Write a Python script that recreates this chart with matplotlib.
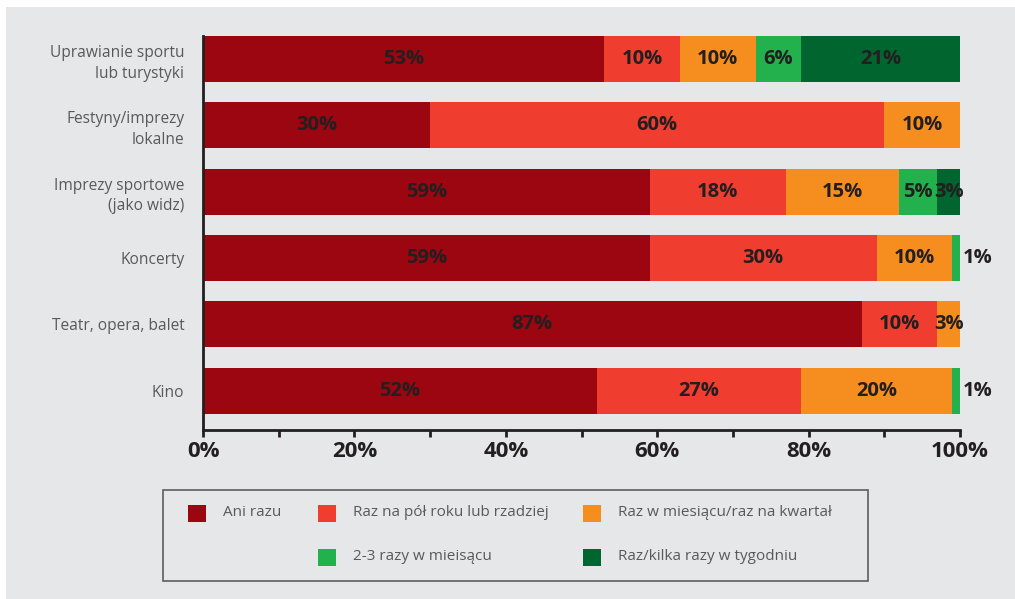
import matplotlib
matplotlib.use("Agg")
import matplotlib.pyplot as plt
from matplotlib.patches import Rectangle
import numpy as np

# Data: share of respondents by frequency of participation (%)
categories = [
    "Uprawianie sportu\nlub turystyki",
    "Festyny/imprezy\nlokalne",
    "Imprezy sportowe\n(jako widz)",
    "Koncerty",
    "Teatr, opera, balet",
    "Kino",
]
series_names = [
    "Ani razu",
    "Raz na pół roku lub rzadziej",
    "Raz w miesiącu/raz na kwartał",
    "2-3 razy w mieisącu",
    "Raz/kilka razy w tygodniu",
]
ani_razu = [53, 30, 59, 59, 87, 52]
raz_pol_roku = [10, 60, 18, 30, 10, 27]
raz_miesiac = [10, 10, 15, 10, 3, 20]
dwa_trzy_razy = [6, 0, 5, 1, 0, 1]
raz_tydzien = [21, 0, 3, 0, 0, 0]
x_ticks = [0, 20, 40, 60, 80, 100]
x_tick_labels = ["0%", "20%", "40%", "60%", "80%", "100%"]

series = [ani_razu, raz_pol_roku, raz_miesiac, dwa_trzy_razy, raz_tydzien]
colors = ["#9b0610", "#ef3e2f", "#f68e1f", "#22b14c", "#00652e"]

BG = "#e6e7e8"
DARK = "#231f20"
GREY_TXT = "#58595b"
FONT = "Open Sans"

W, H = 1015, 599
fig = plt.figure(figsize=(W / 100, H / 100), dpi=100, facecolor="white")


def px_box(x0, y0, x1, y1):
    """Convert an image-pixel box (top-left origin) to figure fractions."""
    return (x0 / W, 1 - y1 / H, (x1 - x0) / W, (y1 - y0) / H)


# grey panel behind everything
l, b, w, h = px_box(6, 7, W, H)
fig.patches.append(Rectangle((l, b), w, h, transform=fig.transFigure,
                             facecolor=BG, edgecolor="none", zorder=-10))

ax = fig.add_axes(px_box(203, 36, 960, 430))
ax.set_facecolor("none")

y = np.arange(len(categories))
left = np.zeros(len(categories))
for vals, color in zip(series, colors):
    vals = np.array(vals, dtype=float)
    ax.barh(y, vals, left=left, height=0.693, color=color, edgecolor="none", zorder=2)
    for yi, v, l0 in zip(y, vals, left):
        if v <= 0:
            continue
        if v < 2:
            ax.text(l0 + v + 0.3, yi, f"{int(v)}%", ha="left", va="center",
                    fontsize=14.5, fontweight="bold", color=DARK, family=FONT, zorder=3)
        else:
            ax.text(l0 + v / 2, yi, f"{int(v)}%", ha="center", va="center",
                    fontsize=14.5, fontweight="bold", color=DARK, family=FONT, zorder=3)
    left += vals

ax.set_xlim(0, 100)
ax.set_ylim(len(categories) - 1 + 0.595, -0.3465)

ax.set_yticks(y)
ax.set_yticklabels(categories, family=FONT, fontsize=11.2, color=GREY_TXT,
                   linespacing=1.4)
ax.tick_params(axis="y", length=0, pad=13.5)

ax.set_xticks(x_ticks)
ax.set_xticklabels(x_tick_labels, family=FONT, fontsize=16, fontweight="bold", color=DARK)
ax.set_xticks(np.arange(0, 101, 10), minor=True)
ax.tick_params(axis="x", which="both", direction="out", length=5, width=2,
               color=DARK, pad=3)

for side in ("top", "right"):
    ax.spines[side].set_visible(False)
for side in ("left", "bottom"):
    ax.spines[side].set_color(DARK)
    ax.spines[side].set_linewidth(2)

# legend panel
l, b, w, h = px_box(163, 490, 868, 581)
fig.patches.append(Rectangle((l, b), w, h, transform=fig.transFigure,
                             facecolor="none", edgecolor="#5e5e60", linewidth=1.2, zorder=5))

legend_slots = [
    (188, 513), (318, 513), (583, 513),
    (318, 557), (583, 557),
]
for name, color, (mx, my) in zip(series_names, colors, legend_slots):
    l, b, w, h = px_box(mx, my - 8.5, mx + 18, my + 8.5)
    fig.patches.append(Rectangle((l, b), w, h, transform=fig.transFigure,
                                 facecolor=color, edgecolor="none", zorder=6))
    fig.text((mx + 35) / W, 1 - my / H, name, ha="left", va="center",
             family=FONT, fontsize=11, color=GREY_TXT)

fig.savefig("out.png", dpi=100, facecolor=fig.get_facecolor())
